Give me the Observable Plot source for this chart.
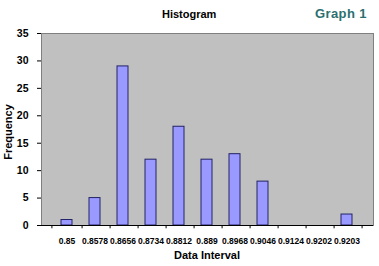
<!DOCTYPE html>
<html><head><meta charset="utf-8">
<script src="https://cdn.jsdelivr.net/npm/d3@7"></script>
<script src="https://cdn.jsdelivr.net/npm/@observablehq/plot@0.6"></script>
<style>
body{margin:0;background:#fff;font-family:"Liberation Sans",Arial,sans-serif;}
#wrap{position:relative;width:379px;height:266px;}
.t{position:absolute;white-space:nowrap;}
</style></head>
<body><div id="wrap"></div>
<script>
const categories = ["0.85","0.8578","0.8656","0.8734","0.8812","0.889","0.8968","0.9046","0.9124","0.9202","0.9203"];
const frequencies = [1,5,29,12,18,12,13,8,0,0,2];
const yTicks = [0,5,10,15,20,25,30,35];
const title = "Histogram";
const badge = "Graph 1";
const xLabel = "Data Interval";
const yLabel = "Frequency";

const data = categories.map((c,i)=>({bin:c, freq:frequencies[i]}));
const W=379,H=266,mL=41,mR=6,mT=33,mB=41;
const step=(W-mL-mR)/categories.length;

const chart = Plot.plot({
  width:W,height:H,marginLeft:mL,marginRight:mR,marginTop:mT,marginBottom:mB,
  style:{fontFamily:"'Liberation Sans',Arial,sans-serif",fontWeight:"bold",fontSize:"10px",color:"#000",background:"transparent"},
  x:{type:"band",domain:categories,padding:0.6,align:0.5,label:null},
  y:{domain:[0,35],label:null},
  marks:[
    Plot.frame({fill:"#c0c0c0",stroke:"#808080"}),
    Plot.barY(data,{x:"bin",y:"freq",fill:"#9999ff",stroke:"#222266",strokeWidth:1}),
    Plot.axisY({ticks:yTicks,tickSize:4,tickPadding:9,fontSize:10.5,fontWeight:"bold"}),
    Plot.axisX({tickSize:0,tickPadding:12,fontSize:8.5,fontWeight:"bold"}),
    Plot.ruleX(categories,{x:d=>d,dx:step/2,y1:0,y2:-0.6,stroke:"#000",clip:false}),
    Plot.ruleX([categories[0]],{x:d=>d,dx:-step/2,y1:0,y2:-0.6,stroke:"#000"}),
    Plot.ruleY([0],{stroke:"#000"})
  ]
});
const wrap=document.getElementById("wrap");
wrap.appendChild(chart);
function addText(txt,css){const d=document.createElement("div");d.className="t";d.textContent=txt;Object.assign(d.style,css);wrap.appendChild(d);return d;}
addText(title,{left:"162px",top:"8px",fontSize:"11px",fontWeight:"bold",width:"52px",textAlign:"center"});
addText(badge,{left:"315px",top:"6px",fontSize:"13px",fontWeight:"bold",color:"#2b7070",letterSpacing:"0.4px"});
addText(xLabel,{left:"167px",top:"249px",width:"80px",textAlign:"center",fontSize:"11px",fontWeight:"bold"});
addText(yLabel,{left:"-22px",top:"126px",width:"60px",textAlign:"center",fontSize:"11px",fontWeight:"bold",transform:"rotate(-90deg)"});
</script></body></html>
